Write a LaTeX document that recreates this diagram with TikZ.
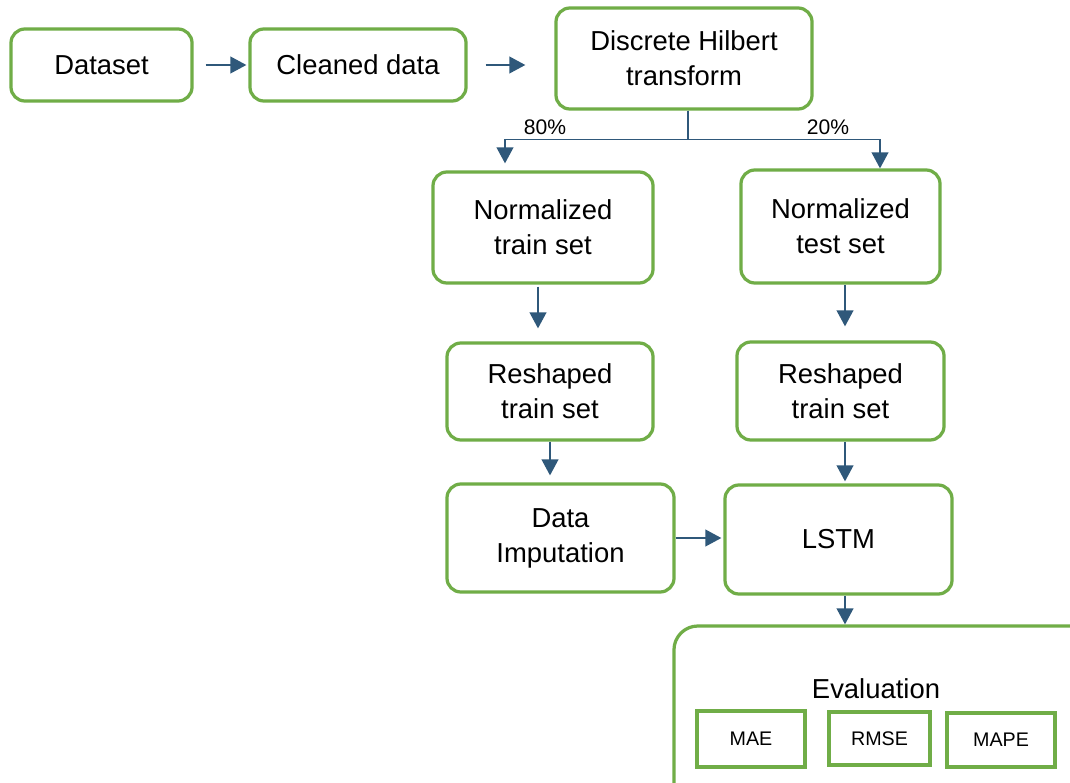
\documentclass[tikz,border=0pt]{standalone}
\usepackage{fontspec}
\setmainfont{Liberation Sans}
\usetikzlibrary{arrows.meta,calc}
\definecolor{boxgreen}{RGB}{112,173,71}
\definecolor{arrowblue}{RGB}{47,88,122}

\begin{document}
\begin{tikzpicture}[x=0.025cm, y=-0.025cm,
  stage/.style={draw=boxgreen, line width=2.3pt, rounded corners=0.35cm, align=center,
    inner sep=0pt, font=\fontsize{19.5}{25}\selectfont},
  metric/.style={draw=boxgreen, line width=2.3pt, inner sep=0pt, font=\fontsize{14}{17}\selectfont},
  share/.style={inner sep=0pt, font=\fontsize{15}{18}\selectfont},
  flow/.style={draw=arrowblue, line width=1.1pt, -{Triangle[length=0.4cm,width=0.42cm]}}]
  \useasboundingbox (0,0) rectangle (1070,782);
  \clip (0,0) rectangle (1070,782);
  \fill[white] (0,0) rectangle (1070,782);

  \node[stage, minimum width=4.525cm, minimum height=1.8cm] (data) at (101.5,65) {Dataset};
  \node[stage, minimum width=5.4cm, minimum height=1.8cm] (clean) at (358,65) {Cleaned data};
  \node[stage, minimum width=6.4cm, minimum height=2.525cm] (dht) at (684,58.5) {Discrete Hilbert\\transform};
  \node[stage, minimum width=5.5cm, minimum height=2.775cm] (ntrain) at (543,227.5) {Normalized\\train set};
  \node[stage, minimum width=4.975cm, minimum height=2.825cm] (ntest) at (840.5,226.5) {Normalized\\test set};
  \node[stage, minimum width=5.15cm, minimum height=2.425cm] (rtrain) at (550,391.5) {Reshaped\\train set};
  \node[stage, minimum width=5.175cm, minimum height=2.45cm] (rtest) at (840.5,391) {Reshaped\\train set};
  \node[stage, minimum width=5.675cm, minimum height=2.7cm] (imput) at (560.5,538) {Data\\Imputation};
  \node[stage, minimum width=5.675cm, minimum height=2.725cm] (lstm) at (838.5,539.5) {LSTM};
  \node[stage, rounded corners=0.6cm, minimum width=10.525cm, minimum height=4.6cm] (eval) at (884.5,718) {};
  \node[stage, draw=none] (evaltitle) at (876,689) {Evaluation};
  \node[metric, minimum width=2.7cm, minimum height=1.4cm] (mae) at (751,739) {MAE};
  \node[metric, minimum width=2.525cm, minimum height=1.325cm] (rmse) at (879.5,738.5) {RMSE};
  \node[metric, minimum width=2.7cm, minimum height=1.35cm] (mape) at (1001,740) {MAPE};

  \node[share] (p80) at (545,127) {80\%};
  \node[share] (p20) at (828,127) {20\%};

  \draw[flow, shorten <=0.3cm, shorten >=0.05cm] (data.east) -- (clean.west);
  \draw[flow, shorten <=0.45cm, shorten >=0.725cm] (clean.east) -- (clean.east -| dht.west);
  \draw[flow, shorten >=0.175cm] ($(dht.south)+(4,0)$) -- ++(0,29) -| ($(ntrain.north)+(-38,0)$);
  \draw[flow] ($(dht.south)+(4,0)$) -- ++(0,29) -| ($(ntest.north)+(39.5,0)$);
  \draw[flow, shorten <=0.05cm, shorten >=0.325cm] ($(ntrain.south)+(-5,0)$) coordinate (s1) -- (s1 |- rtrain.north);
  \draw[flow, shorten >=0.35cm] ($(ntest.south)+(4.5,0)$) coordinate (s2) -- (s2 |- rtest.north);
  \draw[flow, shorten >=0.175cm] (rtrain.south) -- (rtrain.south |- imput.north);
  \draw[flow, shorten >=0.05cm] ($(rtest.south)+(4.5,0)$) coordinate (s3) -- (s3 |- lstm.north);
  \draw[flow, shorten >=0.05cm] (imput.east) -- (imput.east -| lstm.west);
  \draw[flow] ($(lstm.south)+(6.5,0)$) coordinate (s4) -- (s4 |- eval.north);
\end{tikzpicture}
\end{document}
